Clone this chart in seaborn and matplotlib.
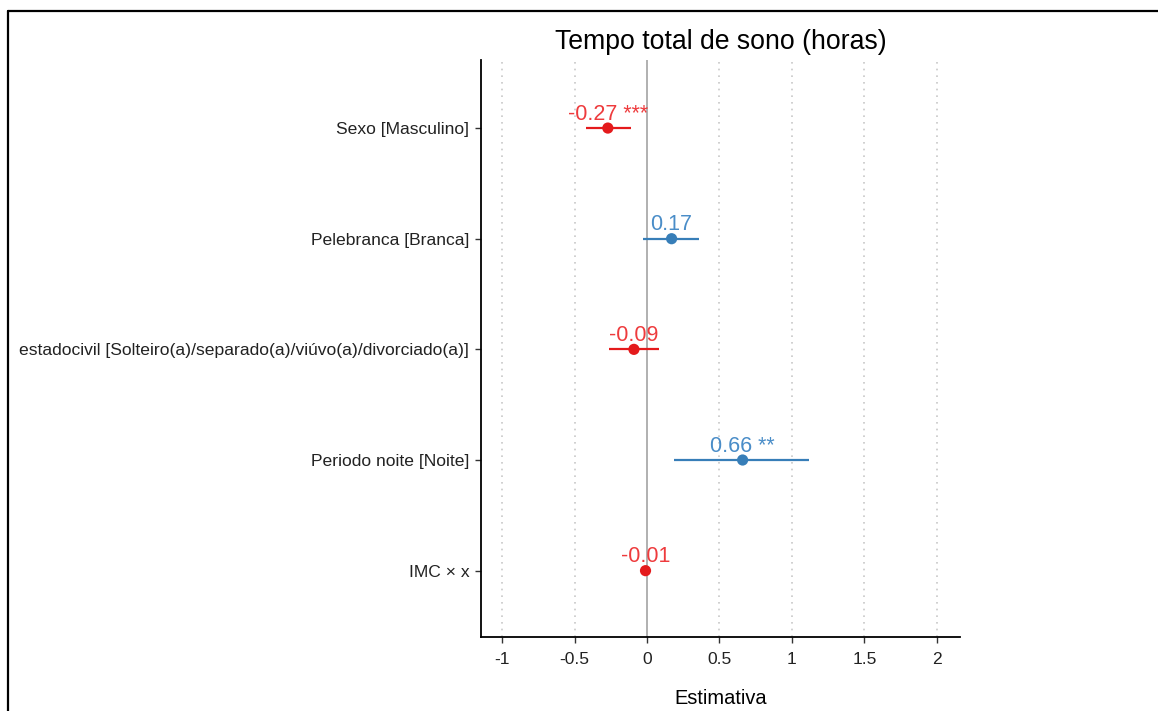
import matplotlib
matplotlib.use("Agg")
import matplotlib.pyplot as plt
import seaborn as sns
import pandas as pd
from matplotlib.lines import Line2D

terms = ["Sexo [Masculino]", "Pelebranca [Branca]",
         "estadocivil [Solteiro(a)/separado(a)/viúvo(a)/divorciado(a)]",
         "Periodo noite [Noite]", "IMC × x"]
estimates = [-0.27, 0.17, -0.09, 0.66, -0.01]
ci_low = [-0.42, -0.03, -0.26, 0.19, -0.02]
ci_high = [-0.11, 0.36, 0.08, 1.12, 0.00]
stars = ["***", "", "", "**", ""]
title = "Tempo total de sono (horas)"
xlabel = "Estimativa"
xticks = [-1, -0.5, 0, 0.5, 1, 1.5, 2]
xticklabels = ["-1", "-0.5", "0", "0.5", "1", "1.5", "2"]

sns.set_theme(style="white")
plt.rcParams["font.family"] = ["Liberation Sans", "DejaVu Sans"]

df = pd.DataFrame({"term": terms, "est": estimates, "lo": ci_low, "hi": ci_high,
                   "stars": stars})
df["sign"] = ["neg" if e < 0 else "pos" for e in df["est"]]
df["pos"] = range(len(df))

pal = {"neg": "#E41A1C", "pos": "#377EB8"}
txtpal = {"neg": "#EE3B3D", "pos": "#4A8DC8"}

fig = plt.figure(figsize=(11.58, 7.11), dpi=100)
ax = fig.add_axes([0.4154, 0.104, 0.829 - 0.4154, 0.9156 - 0.104])

for x in xticks:
    if x != 0:
        ax.axvline(x, color="#c8c8c8", lw=1.2, ls=(0, (1, 3)), zorder=0)
ax.axvline(0, color="#b0b0b0", lw=1.4, zorder=1)

for _, r in df.iterrows():
    ax.hlines(r["pos"], r["lo"], r["hi"], color=pal[r["sign"]], lw=1.6, zorder=2)

sns.scatterplot(data=df, x="est", y="pos", hue="sign", palette=pal, s=65,
                edgecolor="none", legend=False, ax=ax, zorder=3)

for _, r in df.iterrows():
    lab = f"{r['est']:.2f}" + (f" {r['stars']}" if r["stars"] else "")
    ax.annotate(lab, (r["est"], r["pos"]), xytext=(0, 2.5), textcoords="offset points",
                ha="center", va="bottom", fontsize=15.5, color=txtpal[r["sign"]],
                zorder=4)

ax.set_yticks(list(df["pos"]))
ax.set_yticklabels(terms, fontsize=12.6, color="#222222")
ax.set_xticks(xticks)
ax.set_xticklabels(xticklabels, fontsize=12.6, color="#222222")
ax.set_xlim(-1.145, 2.16)
ax.set_ylim(4.6, -0.615)
ax.set_xlabel(xlabel, fontsize=14.4, color="black", labelpad=16)
ax.set_ylabel("")
ax.set_title(title, fontsize=19.2, color="black", pad=8)

for s in ["top", "right"]:
    ax.spines[s].set_visible(False)
for s in ["left", "bottom"]:
    ax.spines[s].set_color("black")
    ax.spines[s].set_linewidth(1.3)
ax.tick_params(axis="y", direction="out", length=4, width=1, color="#333333",
               left=True, pad=4.5)
ax.tick_params(axis="x", direction="out", length=4, width=1, color="#333333",
               bottom=True, pad=6.5)

# outer frame (left and top edges visible)
fig.add_artist(Line2D([8/1158, 8/1158], [0, 1 - 11/711], transform=fig.transFigure,
                      color="black", lw=1.6))
fig.add_artist(Line2D([8/1158, 1], [1 - 11/711, 1 - 11/711], transform=fig.transFigure,
                      color="black", lw=1.6))

fig.savefig("out.png", dpi=100)
